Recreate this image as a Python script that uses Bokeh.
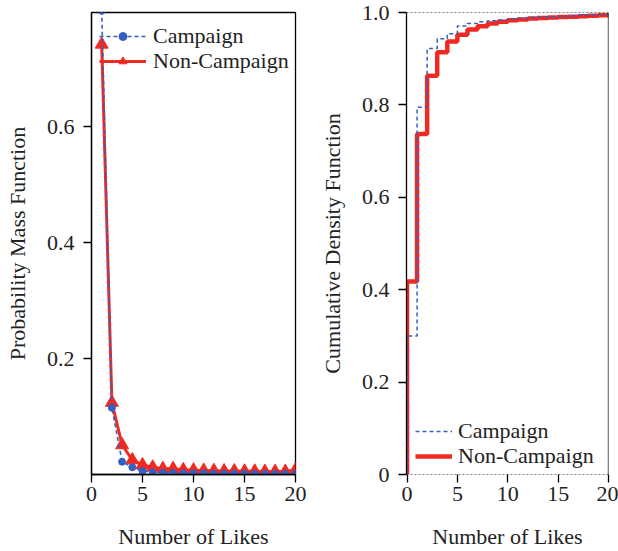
from bokeh.plotting import figure
from bokeh.layouts import row
from bokeh.models import FixedTicker, Range1d, Legend, LegendItem, Span
from bokeh.embed import file_html
from bokeh.resources import INLINE

# ---- data ----
likes = list(range(1, 21))
pmf_campaign = [0.80, 0.115, 0.022, 0.0125, 0.006, 0.004, 0.003, 0.0025, 0.002, 0.002,
                0.002, 0.0015, 0.0015, 0.0015, 0.0012, 0.0012, 0.001, 0.001, 0.001, 0.001]
pmf_noncampaign = [0.742, 0.124, 0.051, 0.025, 0.0165, 0.0125, 0.010, 0.0100, 0.008, 0.0075,
                   0.007, 0.0065, 0.006, 0.006, 0.0055, 0.0055, 0.005, 0.005, 0.005, 0.008]

cdf_likes = list(range(0, 21))
cdf_campaign = [0.30, 0.795, 0.922, 0.943, 0.954, 0.971, 0.976, 0.980, 0.982, 0.984, 0.986,
                0.988, 0.989, 0.990, 0.991, 0.992, 0.993, 0.994, 0.995, 0.996, 0.997]
cdf_noncampaign = [0.418, 0.737, 0.863, 0.914, 0.937, 0.952, 0.963, 0.970, 0.976, 0.980, 0.983,
                   0.985, 0.987, 0.988, 0.989, 0.990, 0.991, 0.992, 0.993, 0.994, 0.995]

x_ticks = [0, 5, 10, 15, 20]
pmf_y_ticks = [0.2, 0.4, 0.6]
cdf_y_ticks = [0, 0.2, 0.4, 0.6, 0.8, 1.0]

FONT = "Liberation Serif"
FS = "22px"
BLUE = "#3560c0"
RED = "#f02a22"
H = 551


def style_axes(p):
    for ax in list(p.xaxis) + list(p.yaxis):
        ax.axis_label_text_font = FONT
        ax.axis_label_text_font_size = FS
        ax.axis_label_text_font_style = "normal"
        ax.axis_label_text_color = "#222222"
        ax.major_label_text_font = FONT
        ax.major_label_text_font_size = FS
        ax.major_label_text_color = "#222222"
        ax.major_tick_in = 0
        ax.major_tick_out = 8
        ax.major_tick_line_width = 1.3
        ax.minor_tick_line_color = None
        ax.axis_line_width = 1.3
    p.xaxis.major_label_standoff = 4
    p.xaxis.axis_label_standoff = 20
    p.yaxis.major_label_standoff = 9
    p.yaxis.axis_label_standoff = 14
    p.xgrid.visible = False
    p.ygrid.visible = False


def add_legend(p, label, renderers, loc, glyph_width, standoff):
    leg = Legend(items=[LegendItem(label=label, renderers=renderers)], location=loc)
    leg.border_line_color = None
    leg.background_fill_alpha = 0
    leg.label_text_font = FONT
    leg.label_text_font_size = FS
    leg.label_text_color = "#222222"
    leg.glyph_height = 20
    leg.label_height = 20
    leg.glyph_width = glyph_width
    leg.label_standoff = standoff
    leg.spacing = 0
    leg.padding = 4
    leg.margin = 0
    p.add_layout(leg)


# ---- left: PMF ----
p1 = figure(width=310, height=H, output_backend="svg", toolbar_location=None,
            x_range=Range1d(0, 20), y_range=Range1d(0, 0.797),
            min_border_left=91, min_border_right=15, min_border_top=12, min_border_bottom=73)
p1.outline_line_color = "black"
p1.outline_line_width = 1.3
p1.xaxis.axis_label = "Number of Likes"
p1.yaxis.axis_label = "Probability Mass Function"
p1.xaxis.ticker = FixedTicker(ticks=x_ticks)
p1.yaxis.ticker = FixedTicker(ticks=pmf_y_ticks)
style_axes(p1)

rl = p1.line(likes, pmf_noncampaign, line_color=RED, line_width=3)
rm = p1.scatter(likes, pmf_noncampaign, marker="triangle", size=13,
                fill_color=RED, line_color=RED)
bl = p1.line(likes, pmf_campaign, line_color=BLUE, line_width=1.6, line_dash="4 3")
bm = p1.scatter(likes, pmf_campaign, marker="circle", size=7,
                fill_color=BLUE, line_color=BLUE)

add_legend(p1, "Campaign", [bl, bm], (8, 425), 47, 7)
add_legend(p1, "Non-Campaign", [rl, rm], (8, 400), 47, 7)

# ---- right: CDF ----
p2 = figure(width=308, height=H, output_backend="svg", toolbar_location=None,
            x_range=Range1d(-0.05, 20), y_range=Range1d(0, 1.0),
            min_border_left=96, min_border_right=10, min_border_top=12, min_border_bottom=73)
p2.outline_line_color = None
p2.xaxis.axis_label = "Number of Likes"
p2.yaxis.axis_label = "Cumulative Density Function"
p2.xaxis.ticker = FixedTicker(ticks=x_ticks)
p2.yaxis.ticker = FixedTicker(ticks=cdf_y_ticks)
p2.yaxis.major_label_overrides = {0: "0", 1: "1.0"}
style_axes(p2)
p2.xaxis.axis_line_color = None

p2.add_layout(Span(location=20, dimension="height", line_color="black", line_width=1.3))
p2.add_layout(Span(location=0, dimension="width", line_color="black", line_width=1.2, line_dash="2 2"))
p2.add_layout(Span(location=1, dimension="width", line_color="black", line_width=1.2, line_dash="2 2"))

cx = [0] + cdf_likes
r2 = p2.step(cx, [0] + cdf_noncampaign, mode="after", line_color=RED, line_width=4.5)
b2 = p2.step(cx, [0] + cdf_campaign, mode="after", line_color=BLUE, line_width=1.5, line_dash="4 3")

add_legend(p2, "Campaign", [b2], (9, 30), 37, 6)
add_legend(p2, "Non-Campaign", [r2], (9, 5), 37, 6)

layout = row(p1, p2)
open("out.html", "w").write(file_html(layout, INLINE))
